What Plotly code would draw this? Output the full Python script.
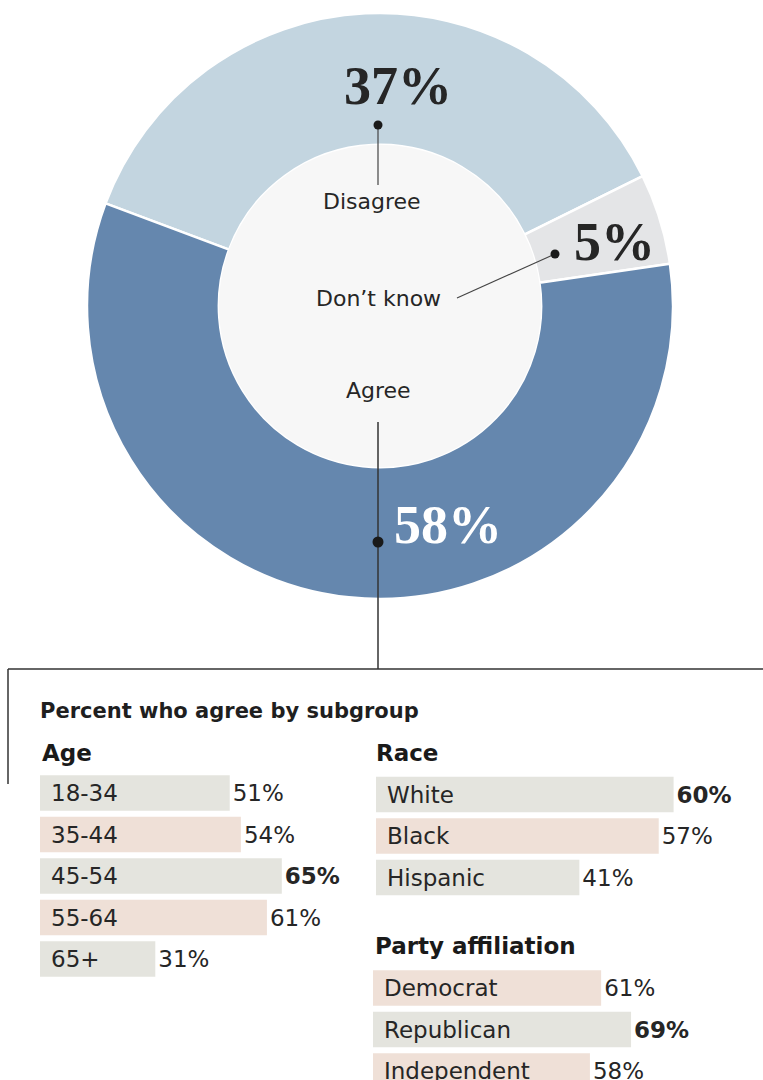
import plotly.graph_objects as go

W, H = 763, 1080

# Overall response to the statement
resp_labels = ["Disagree", "Don’t know", "Agree"]
resp_values = [37, 5, 58]
resp_colors = ["#c3d5e0", "#e4e5e7", "#6587ae"]

# Share who agree, by subgroup
age_groups = ["18-34", "35-44", "45-54", "55-64", "65+"]
age_values = [51, 54, 65, 61, 31]
race_groups = ["White", "Black", "Hispanic"]
race_values = [60, 57, 41]
party_groups = ["Democrat", "Republican", "Independent"]
party_values = [61, 69, 58]

GRAY = "#e4e4de"
PINK = "#efe0d7"
INK = "#262626"
BODY_FONT = "DejaVu Sans"
HEAD_FONT = "DejaVu Sans"
NUM_FONT = "Liberation Serif"


def px(x):
    return x / W


def py(y):
    return 1 - y / H


fig = go.Figure()

# ---- donut ----
CX, CY, R, HOLE = 380, 306, 293, 0.55
fig.add_trace(go.Pie(
    labels=resp_labels, values=resp_values,
    marker=dict(colors=resp_colors, line=dict(color="white", width=2.5)),
    hole=HOLE, sort=False, direction="clockwise", rotation=290.5,
    textinfo="none", hoverinfo="none", showlegend=False,
    domain=dict(x=[px(CX - R), px(CX + R)], y=[py(CY + R), py(CY - R)]),
))

shapes = []
ri = R * HOLE
shapes.append(dict(type="circle", xref="paper", yref="paper",
                   x0=px(CX - ri), x1=px(CX + ri), y0=py(CY + ri), y1=py(CY - ri),
                   fillcolor="#f7f7f7", line=dict(width=0), layer="above"))


def seg(x0, y0, x1, y1, color=INK, width=1.3):
    shapes.append(dict(type="line", xref="paper", yref="paper",
                       x0=px(x0), y0=py(y0), x1=px(x1), y1=py(y1),
                       line=dict(color=color, width=width), layer="above"))


def dot(x, y, r=4.5):
    shapes.append(dict(type="circle", xref="paper", yref="paper",
                       x0=px(x - r), x1=px(x + r), y0=py(y + r), y1=py(y - r),
                       fillcolor="#1a1a1a", line=dict(width=0), layer="above"))


# leader lines from labels to slices
seg(378, 125, 378, 185, "#444", 1.2)
dot(378, 125)
seg(457, 298, 555, 254, "#444", 1.1)
dot(555, 254)
seg(378, 422, 378, 669, "#333", 1.5)
dot(378, 542, 5.5)
# bracket around subgroup panel
seg(8, 669, 763, 669, "#333", 1.5)
seg(8, 669, 8, 784, "#333", 1.5)

annotations = []


def text(x, y, s, size, color=INK, family=BODY_FONT, anchor="center"):
    annotations.append(dict(x=px(x), y=py(y), xref="paper", yref="paper",
                            text=s, showarrow=False, xanchor=anchor, yanchor="middle",
                            font=dict(size=size, color=color, family=family)))


text(372, 202, "Disagree", 22)
text(378, 298, "Don’t know", 22)
text(378, 390, "Agree", 22)
text(398, 86, "<b>37%</b>", 54, INK, NUM_FONT)
text(614, 242, "<b>5%</b>", 54, INK, NUM_FONT)
text(448, 525, "<b>58%</b>", 54, "white", NUM_FONT)

text(38, 711, "<b>Percent who agree by subgroup</b>", 21, "#1f1f1f", HEAD_FONT, "left")
text(40, 753, "<b>Age</b>", 23, "#1a1a1a", HEAD_FONT, "left")
text(374, 753, "<b>Race</b>", 23, "#1a1a1a", HEAD_FONT, "left")
text(373, 946, "<b>Party affiliation</b>", 23, "#1a1a1a", HEAD_FONT, "left")

# ---- subgroup bar panels ----
PITCH = 41.5
BAR_W = 35.5 / PITCH


def add_panel(idx, groups, values, colors, x_left, px_per_pct, xmax, top, nvis):
    xa, ya = f"x{idx}", f"y{idx}"
    top_val = max(values)
    labels = [f"<b>{v}%</b>" if v == top_val else f"{v}%" for v in values]
    fig.add_trace(go.Bar(
        x=values, y=groups, orientation="h", xaxis=xa, yaxis=ya,
        width=BAR_W, marker=dict(color=colors, line=dict(width=0)),
        text=labels, textposition="outside", cliponaxis=False,
        constraintext="none",
        textfont=dict(size=23, color=INK, family=BODY_FONT),
        hoverinfo="none", showlegend=False,
    ))
    for g in groups:
        annotations.append(dict(x=0, y=g, xref=xa, yref=ya, text=g, showarrow=False,
                                xanchor="left", yanchor="middle", xshift=9,
                                font=dict(size=23, color=INK, family=BODY_FONT)))
    bottom = min(H, top + nvis * PITCH)
    fig.update_layout(**{
        f"xaxis{idx}": dict(domain=[px(x_left), px(x_left + px_per_pct * xmax)],
                            range=[0, xmax], visible=False, anchor=ya, fixedrange=True),
        f"yaxis{idx}": dict(domain=[py(bottom), py(top)], type="category",
                            categoryorder="array", categoryarray=groups,
                            range=[(bottom - top) / PITCH - 0.5, -0.5],
                            visible=False, anchor=xa, fixedrange=True),
    })


add_panel(2, age_groups, age_values, [GRAY, PINK, GRAY, PINK, GRAY], 40, 3.72, 80, 772.25, 5)
add_panel(3, race_groups, race_values, [GRAY, PINK, GRAY], 376, 4.96, 75, 773.75, 3)
add_panel(4, party_groups, party_values, [PINK, GRAY, PINK], 373, 3.74, 100, 967.25, 3)

fig.update_layout(
    width=W, height=H, margin=dict(l=0, r=0, t=0, b=0),
    paper_bgcolor="white", plot_bgcolor="rgba(0,0,0,0)",
    barmode="overlay", shapes=shapes, annotations=annotations,
)

fig.write_html("out.html")
